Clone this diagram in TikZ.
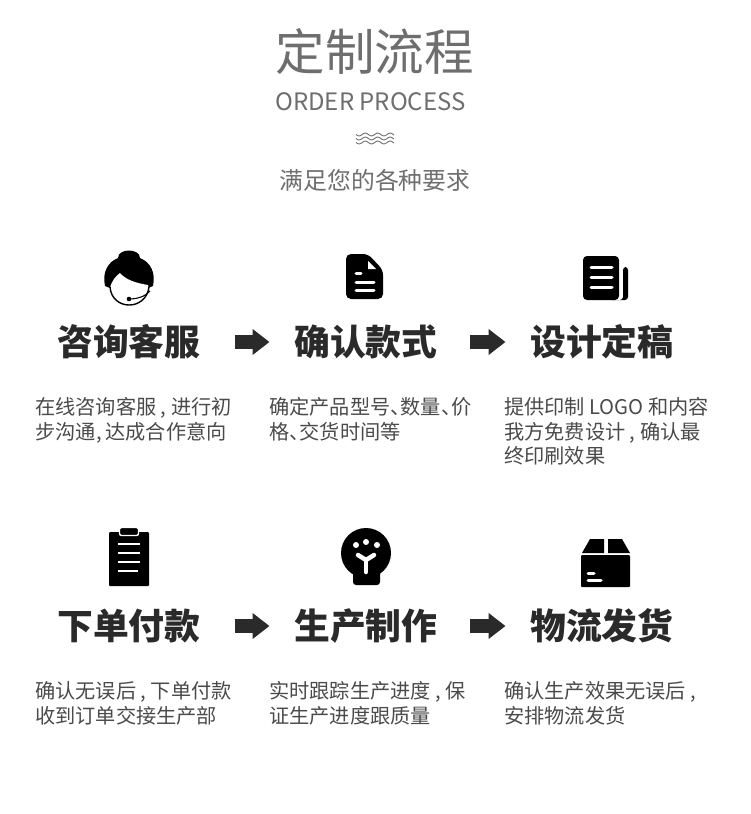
\documentclass[tikz,border=0pt]{standalone}
\usepackage{fontspec}
\setmainfont{Noto Sans CJK SC}
\usetikzlibrary{arrows.meta}
\definecolor{inkblack}{HTML}{2A2A2A}
\definecolor{headgray}{HTML}{6E6E6E}
\definecolor{bodygray}{HTML}{4A4A4A}
\newcommand{\dunhao}{、\kern-10pt}
\tikzset{
  headtext/.style={text=headgray,inner sep=0pt},
  titletext/.style={text=inkblack,inner sep=0pt,anchor=west,font=\fontsize{35.8}{40}\selectfont\bfseries},
  bodytext/.style={text=bodygray,inner sep=0pt,anchor=north west,align=left,font=\fontsize{20.2}{24.4}\selectfont},
  flowarrow/.style={draw=inkblack,line width=14pt,shorten <=34pt,shorten >=24.5pt,-{Triangle[length=17pt,width=25pt,fill=inkblack]}},
  iconline/.style={draw=white,line cap=round,line width=3pt},
  wavyline/.style={draw=headgray,line width=0.9pt}
}
\begin{document}
\begin{tikzpicture}[x=1pt,y=-1pt]
  \useasboundingbox (0,0) rectangle (750,814);
  \node[headtext,font=\fontsize{49.5}{54}\selectfont] (maintitle) at (374.5,52) {定制流程};
  \node[headtext,font=\fontsize{24}{28}\selectfont] (subtitle) at (370.5,102) {ORDER PROCESS};
  \node[headtext,font=\fontsize{23.8}{28}\selectfont] (slogan) at (375,180) {满足您的各种要求};
  \foreach \wy in {134.5,138.5,142.5}
    \draw[wavyline] plot[domain=356:394,samples=60] (\x,{\wy+1.4*sin(29*(\x-356))});

  \node[titletext] (kefu) at (57,342) {咨询客服};
  \node[titletext] (kuanshi) at (294,342) {确认款式};
  \node[titletext] (dinggao) at (530,342) {设计定稿};
  \node[titletext] (fukuan) at (57,626) {下单付款};
  \node[titletext] (zhizuo) at (294,626) {生产制作};
  \node[titletext] (fahuo) at (530,626) {物流发货};
  \draw[flowarrow] (kefu) -- (kuanshi);
  \draw[flowarrow,shorten <=32pt] (kuanshi) -- (dinggao);
  \draw[flowarrow] (fukuan) -- (zhizuo);
  \draw[flowarrow,shorten <=32pt] (zhizuo) -- (fahuo);

  \node[bodytext] (kefutext) at (35,397.5) {在线咨询客服 , 进行初\\步沟通\kern1pt,\kern3pt 达成合作意向};
  \node[bodytext] (kuanshitext) at (269,397.5) {确定产品型号\dunhao 数量\dunhao 价\\格\dunhao 交货时间等};
  \node[bodytext] (dinggaotext) at (504,397.5) {提供印制 LOGO 和内容\\我方免费设计 , 确认最\\终印刷效果};
  \node[bodytext] (fukuantext) at (35,681.5) {确认无误后 , 下单付款\\收到订单交接生产部};
  \node[bodytext] (zhizuotext) at (269,681.5) {实时跟踪生产进度 , 保\\证生产进度跟质量};
  \node[bodytext] (fahuotext) at (504,681.5) {确认生产效果无误后 ,\\安排物流发货};

  % headset
  \fill[black] (105,286) .. controls (102,272) and (108,262) .. (118,258) .. controls (118,248) and (140,248) .. (140,258)
    .. controls (150,262) and (156,272) .. (153,286) -- (148,288) -- (110,288) -- cycle;
  \fill[white] (110,288) .. controls (112,280) and (116,276) .. (120,273) .. controls (126,280) and (136,283) .. (148,285)
    -- (149,290) -- (110,292) -- cycle;
  \draw[black,line width=1.4pt] (110,287) .. controls (112,311) and (146,311) .. (149,287);
  \draw[black,line width=1.1pt] (129,299) .. controls (138,299) and (146,296) .. (150,291);
  \fill[black] (129,299) circle (2.3);

  % document
  \fill[black,rounded corners=5pt] (346,254) -- (368,254) -- (383,270) -- (383,299) -- (346,299) -- cycle;
  \fill[white] (368,261) -- (376,269) -- (368,269) -- cycle;
  \draw[iconline] (356,273) -- (361,273);
  \draw[iconline] (356,282) -- (374,282);
  \draw[iconline] (356,290) -- (374,290);

  % newspaper
  \fill[black,rounded corners=4pt] (583,256) -- (619,256) -- (619,300) -- (583,300) -- cycle;
  \fill[black,rounded corners=3pt] (610,300) -- (628,300) -- (628,267) -- (623,267) -- (623,300) -- cycle;
  \draw[white,line width=3pt] (621,270) -- (621,294);
  \draw[iconline] (591,267) -- (612,267);
  \draw[iconline] (591,277) -- (612,277);
  \draw[iconline] (591,287) -- (612,287);

  % clipboard
  \fill[black,rounded corners=1pt] (109,532) rectangle (149,586);
  \fill[black,rounded corners=2pt,draw=white,line width=1.4pt] (119.5,527.5) rectangle (138.5,535.5);
  \foreach \ly/\lx in {544/140,553/140,562/140,571/138}
    \draw[white,line width=1.6pt] (118,\ly) -- (\lx,\ly);

  % bulb
  \fill[black] (366,553) circle (25);
  \fill[black,rounded corners=3pt] (353,570) rectangle (380,585);
  \foreach \dx/\dy in {356/545,366/542,377/545}
    \fill[white] (\dx,\dy) circle (3);
  \draw[iconline,line width=4.5pt] (358,555) -- (366,560) -- (374,555);
  \draw[iconline,line width=4.5pt] (366,560) -- (366,572);

  % box
  \fill[black] (582,553) -- (590,539) -- (604,539) -- (604,553) -- cycle;
  \fill[black] (608,553) -- (608,539) -- (622,539) -- (630,553) -- cycle;
  \fill[black,rounded corners=1pt] (581,555) rectangle (630,587);
  \draw[iconline] (588,573) -- (594,573);
  \draw[iconline] (588,580) -- (601,580);
\end{tikzpicture}
\end{document}
